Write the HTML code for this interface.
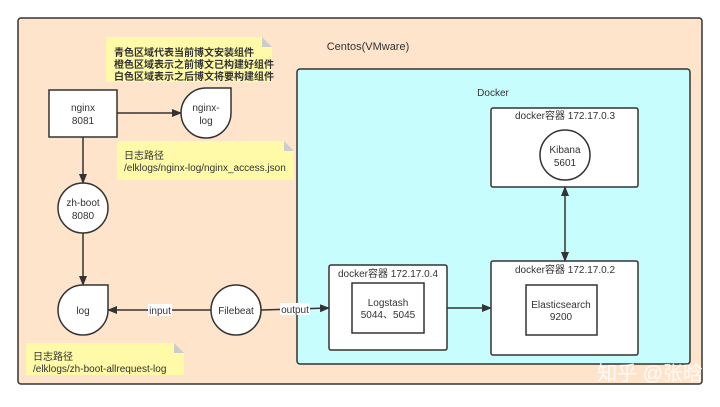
<!DOCTYPE html>
<html><head><meta charset="utf-8"><style>
body{margin:0;background:#fff;width:720px;height:402px;overflow:hidden}
text{font-family:"Liberation Sans","Noto Sans CJK SC",sans-serif;fill:#333}
</style></head><body>
<svg width="720" height="402" viewBox="0 0 720 402" xmlns="http://www.w3.org/2000/svg">
<defs><marker id="a" markerWidth="10" markerHeight="8" refX="9" refY="4" orient="auto" markerUnits="userSpaceOnUse"><path d="M0,0L10,4L0,8z" fill="#333"/></marker>
<marker id="b" markerWidth="10" markerHeight="8" refX="1" refY="4" orient="auto" markerUnits="userSpaceOnUse"><path d="M10,0L0,4L10,8z" fill="#333"/></marker></defs>
<rect x="18" y="18" width="684" height="366" rx="3" fill="#ffe4cc" stroke="#333" stroke-width="1.5"/>
<text x="368" y="50" font-size="11" text-anchor="middle">Centos(VMware)</text>
<rect x="297" y="69" width="393" height="295" rx="3" fill="#c8fdfd" stroke="#333" stroke-width="1.5"/>
<text x="493" y="96" font-size="10" text-anchor="middle">Docker</text>
<!-- notes -->
<path d="M106,37H262L272,47V82H106z" fill="#fffaa8"/><path d="M262,37L272,47H262z" fill="#ccc"/>
<text font-size="10" font-weight="bold" fill="#222"><tspan x="114" y="56">青色区域代表当前博文安装组件</tspan><tspan x="114" y="68">橙色区域表示之前博文已构建好组件</tspan><tspan x="114" y="80">白色区域表示之后博文将要构建组件</tspan></text>
<path d="M117,141H284L294,151V180H117z" fill="#fffaa8"/><path d="M284,141L294,151H284z" fill="#ccc"/>
<text font-size="10"><tspan x="124" y="159">日志路径</tspan><tspan x="124" y="171">/elklogs/nginx-log/nginx_access.json</tspan></text>
<path d="M26,343H174L184,353V375H26z" fill="#fffaa8"/><path d="M174,343L184,353H174z" fill="#ccc"/>
<text font-size="10"><tspan x="33" y="360">日志路径</tspan><tspan x="33" y="372">/elklogs/zh-boot-allrequest-log</tspan></text>
<!-- nodes -->
<rect x="49" y="90" width="68" height="47" fill="#fff" stroke="#333" stroke-width="1.5"/>
<text font-size="10" text-anchor="middle"><tspan x="83" y="111">nginx</tspan><tspan x="83" y="124">8081</tspan></text>
<path d="M206,88H231V113A25,25 0 1 1 206,88z" fill="#fff" stroke="#333" stroke-width="1.5"/>
<text font-size="10" text-anchor="middle"><tspan x="206" y="111">nginx-</tspan><tspan x="206" y="124">log</tspan></text>
<circle cx="83" cy="208" r="25" fill="#fff" stroke="#333" stroke-width="1.5"/>
<text font-size="10" text-anchor="middle"><tspan x="83" y="206">zh-boot</tspan><tspan x="83" y="219">8080</tspan></text>
<path d="M83,285H108V310A25,25 0 1 1 83,285z" fill="#fff" stroke="#333" stroke-width="1.5"/>
<text x="83" y="314" font-size="10" text-anchor="middle">log</text>
<circle cx="236" cy="310" r="25" fill="#fff" stroke="#333" stroke-width="1.5"/>
<text x="236" y="314" font-size="10" text-anchor="middle">Filebeat</text>
<!-- containers -->
<rect x="491" y="108" width="147" height="79" rx="2" fill="#fff" stroke="#333" stroke-width="1.5"/>
<text x="565" y="119" font-size="10" text-anchor="middle">docker容器 172.17.0.3</text>
<circle cx="565" cy="155" r="25" fill="#fff" stroke="#333" stroke-width="1.5"/>
<text font-size="10" text-anchor="middle"><tspan x="565" y="153">Kibana</tspan><tspan x="565" y="166">5601</tspan></text>
<rect x="491" y="261" width="147" height="94" rx="2" fill="#fff" stroke="#333" stroke-width="1.5"/>
<text x="565" y="273" font-size="10" text-anchor="middle">docker容器 172.17.0.2</text>
<rect x="526" y="285" width="71" height="50" fill="#fff" stroke="#333" stroke-width="1.5"/>
<text font-size="10" text-anchor="middle"><tspan x="561" y="308">Elasticsearch</tspan><tspan x="561" y="320">9200</tspan></text>
<rect x="329" y="265" width="118" height="85" rx="2" fill="#fff" stroke="#333" stroke-width="1.5"/>
<text x="388" y="277" font-size="10" text-anchor="middle">docker容器 172.17.0.4</text>
<rect x="352" y="283" width="72" height="50" fill="#fff" stroke="#333" stroke-width="1.5"/>
<text font-size="10" text-anchor="middle"><tspan x="388" y="306">Logstash</tspan><tspan x="388" y="318">5044、5045</tspan></text>
<!-- arrows -->
<g stroke="#333" stroke-width="1.5" fill="none">
<line x1="117" y1="113" x2="181" y2="113" marker-end="url(#a)"/>
<line x1="83" y1="137" x2="83" y2="183" marker-end="url(#a)"/>
<line x1="83" y1="233" x2="83" y2="285" marker-end="url(#a)"/>
<line x1="211" y1="310" x2="108" y2="310" marker-end="url(#a)"/>
<line x1="261" y1="310" x2="329" y2="308" marker-end="url(#a)"/>
<line x1="447" y1="308" x2="491" y2="308" marker-end="url(#a)"/>
<line x1="565" y1="187" x2="565" y2="261" marker-start="url(#b)" marker-end="url(#a)"/>
</g>
<rect x="148" y="304" width="24" height="12" fill="#fff"/>
<text x="160" y="314" font-size="10" text-anchor="middle">input</text>
<rect x="280" y="303" width="30" height="12" fill="#fff"/>
<text x="295" y="313" font-size="10" text-anchor="middle">output</text>
<text x="650" y="380" font-size="20" text-anchor="middle" fill="#fff" style="fill:#fff;opacity:.85">知乎 @张晗</text>
</svg>
</body></html>
